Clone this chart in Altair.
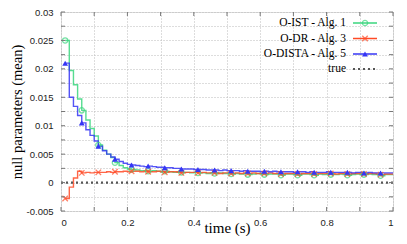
import altair as alt
import pandas as pd

# sample times: 0.0125 * k, k = 1..80
times = [round(0.0125 * k, 4) for k in range(1, 81)]

ist = [0.0250, 0.0197, 0.0172, 0.0147, 0.0127, 0.0110, 0.0095, 0.0082, 0.0066, 0.0057,
       0.0050, 0.0044, 0.0035, 0.0030, 0.0026, 0.0024, 0.0023, 0.0022, 0.0021, 0.0021,
       0.0020, 0.0021, 0.0020, 0.0019, 0.0020, 0.0019, 0.0018, 0.0019, 0.0018, 0.0018,
       0.0017, 0.0018, 0.0017, 0.0017, 0.0016, 0.0017, 0.0016, 0.0017, 0.0016, 0.0016,
       0.0015, 0.0016, 0.0015, 0.0016, 0.0014, 0.0015, 0.0016, 0.0015, 0.0014, 0.0015,
       0.0015, 0.0015, 0.0013, 0.0015, 0.0015, 0.0014, 0.0013, 0.0015, 0.0015, 0.0014,
       0.0013, 0.0015, 0.0014, 0.0015, 0.0014, 0.0014, 0.0015, 0.0014, 0.0013, 0.0014,
       0.0015, 0.0014, 0.0014, 0.0015, 0.0014, 0.0014, 0.0012, 0.0014, 0.0014, 0.0014]

dr = [-0.0028, -0.0008, 0.0008, 0.0020, 0.0017, 0.0018, 0.0017, 0.0018, 0.0018, 0.0018,
      0.0019, 0.0018, 0.0019, 0.0019, 0.0020, 0.0019, 0.0020, 0.0020, 0.0019, 0.0020,
      0.0019, 0.0019, 0.0020, 0.0019, 0.0018, 0.0019, 0.0019, 0.0018, 0.0017, 0.0018,
      0.0018, 0.0018, 0.0017, 0.0018, 0.0017, 0.0017, 0.0017, 0.0016, 0.0017, 0.0017,
      0.0016, 0.0017, 0.0016, 0.0017, 0.0016, 0.0017, 0.0016, 0.0016, 0.0016, 0.0017,
      0.0016, 0.0016, 0.0015, 0.0016, 0.0016, 0.0016, 0.0015, 0.0016, 0.0016, 0.0016,
      0.0015, 0.0016, 0.0016, 0.0016, 0.0016, 0.0015, 0.0016, 0.0016, 0.0015, 0.0016,
      0.0016, 0.0016, 0.0015, 0.0016, 0.0016, 0.0015, 0.0014, 0.0015, 0.0015, 0.0015]

dista = [0.0210, 0.0150, 0.0134, 0.0118, 0.0105, 0.0093, 0.0083, 0.0073, 0.0064, 0.0056,
         0.0050, 0.0045, 0.0041, 0.0037, 0.0034, 0.0032, 0.0031, 0.0030, 0.0029, 0.0028,
         0.0029, 0.0028, 0.0027, 0.0027, 0.0026, 0.0026, 0.0025, 0.0025, 0.0024, 0.0024,
         0.0024, 0.0023, 0.0023, 0.0023, 0.0022, 0.0022, 0.0022, 0.0021, 0.0022, 0.0021,
         0.0021, 0.0021, 0.0020, 0.0021, 0.0020, 0.0020, 0.0020, 0.0019, 0.0020, 0.0019,
         0.0020, 0.0019, 0.0019, 0.0019, 0.0019, 0.0018, 0.0019, 0.0019, 0.0018, 0.0019,
         0.0018, 0.0018, 0.0018, 0.0019, 0.0018, 0.0018, 0.0018, 0.0018, 0.0018, 0.0017,
         0.0018, 0.0018, 0.0017, 0.0018, 0.0017, 0.0017, 0.0017, 0.0017, 0.0017, 0.0017]

series_names = ["O-IST - Alg. 1", "O-DR - Alg. 3", "O-DISTA - Alg. 5"]
series_colors = ["#3ad67e", "#ff4a26", "#3636f5"]

x_grid = [0.0, 0.1, 0.2, 0.3, 0.4, 0.5, 0.6, 0.7, 0.8, 0.9, 1.0]
y_grid = [-0.005, -0.0025, 0.0, 0.0025, 0.005, 0.0075, 0.01, 0.0125, 0.015,
          0.0175, 0.02, 0.0225, 0.025, 0.0275, 0.03]

W, H = 332, 199

rows = []
for name, vals in zip(series_names, [ist, dr, dista]):
    for i, (t, v) in enumerate(zip(times, vals)):
        rows.append({"t": t, "v": v, "series": name, "mark": i % 4 == 0})
df = pd.DataFrame(rows)

xs = alt.Scale(domain=[0, 1], nice=False, zero=False)
ys = alt.Scale(domain=[-0.005, 0.03], nice=False, zero=False)

x_axis = alt.Axis(values=x_grid, labelOverlap=False,
                  labelExpr="round(datum.value*10) % 2 == 0 ? '' + datum.value : ''",
                  labelPadding=6, title="time (s)", titleY=21.5,
                  titleBaseline="alphabetic")
y_axis = alt.Axis(values=y_grid, labelOverlap=False,
                  labelExpr="abs(round(datum.value*400)) % 2 == 0 ? '' + datum.value : ''",
                  labelPadding=8, title="null parameters (mean)", titlePadding=2,
                  titleFontSize=14.5)

color = alt.Color("series:N", scale=alt.Scale(domain=series_names, range=series_colors),
                  legend=None)


def X(field="t"):
    return alt.X(f"{field}:Q", scale=xs, axis=x_axis)


def Y(field="v"):
    return alt.Y(f"{field}:Q", scale=ys, axis=y_axis)


base = alt.Chart(df)

lines = base.mark_line(interpolate="step-after", strokeWidth=1.4, opacity=0.85).encode(
    x=X(), y=Y(), color=color, detail="series:N",
)

mk = base.transform_filter("datum.mark")
circ = mk.transform_filter(alt.datum.series == series_names[0]).mark_point(
    shape="circle", filled=False, size=28, strokeWidth=1.3, color=series_colors[0]
).encode(x=X(), y=Y())
cross = mk.transform_filter(alt.datum.series == series_names[1]).mark_point(
    shape="M-1,-1L1,1M-1,1L1,-1", filled=False, size=30, strokeWidth=1.3,
    color=series_colors[1]
).encode(x=X(), y=Y())
tri = mk.transform_filter(alt.datum.series == series_names[2]).mark_point(
    shape="triangle-up", filled=True, size=34, opacity=1, color=series_colors[2]
).encode(x=X(), y=Y())

true_df = pd.DataFrame({"t": [0.0, 1.0], "v": [0.0, 0.0]})
true_line = alt.Chart(true_df).mark_line(
    color="#555555", strokeWidth=2.2, strokeDash=[2, 3]
).encode(x=X(), y=Y())

# inward tick marks on all four sides
xt = pd.DataFrame({"t": x_grid})
yt = pd.DataFrame({"v": y_grid})
tick_col = "#777777"
xt_bot = alt.Chart(xt).mark_rule(color=tick_col, strokeWidth=1).encode(
    x=X(), y=alt.value(H), y2=alt.value(H - 4))
xt_top = alt.Chart(xt).mark_rule(color=tick_col, strokeWidth=1).encode(
    x=X(), y=alt.value(0), y2=alt.value(4))
yt_left = alt.Chart(yt).mark_rule(color=tick_col, strokeWidth=1).encode(
    y=Y(), x=alt.value(0), x2=alt.value(4))
yt_right = alt.Chart(yt).mark_rule(color=tick_col, strokeWidth=1).encode(
    y=Y(), x=alt.value(W), x2=alt.value(W - 4))

# manual legend (top right, inside plot)
leg_labels = series_names + ["true"]
leg_y = [11, 26.5, 42, 57]
leg_df = pd.DataFrame({"label": leg_labels, "ly": leg_y})
leg_text = alt.Chart(leg_df).mark_text(
    align="right", baseline="middle", font="Liberation Serif", fontSize=11.5,
    color="#000"
).encode(text="label:N", x=alt.value(285), y=alt.Y("ly:Q", scale=None))

leg_lines = []
for i, (name, col) in enumerate(zip(series_names, series_colors)):
    d = pd.DataFrame({"ly": [leg_y[i]]})
    leg_lines.append(alt.Chart(d).mark_rule(color=col, strokeWidth=1.5).encode(
        x=alt.value(292), x2=alt.value(316), y=alt.Y("ly:Q", scale=None)))
leg_true = alt.Chart(pd.DataFrame({"ly": [leg_y[3]]})).mark_rule(
    color="#555555", strokeWidth=2.2, strokeDash=[2, 3]).encode(
    x=alt.value(292), x2=alt.value(316), y=alt.Y("ly:Q", scale=None))
leg_sym = [
    alt.Chart(pd.DataFrame({"ly": [leg_y[0]]})).mark_point(
        shape="circle", filled=False, size=28, strokeWidth=1.3, color=series_colors[0]
    ).encode(x=alt.value(304), y=alt.Y("ly:Q", scale=None)),
    alt.Chart(pd.DataFrame({"ly": [leg_y[1]]})).mark_point(
        shape="M-1,-1L1,1M-1,1L1,-1", filled=False, size=30, strokeWidth=1.3,
        color=series_colors[1]
    ).encode(x=alt.value(304), y=alt.Y("ly:Q", scale=None)),
    alt.Chart(pd.DataFrame({"ly": [leg_y[2]]})).mark_point(
        shape="triangle-up", filled=True, size=34, opacity=1, color=series_colors[2]
    ).encode(x=alt.value(304), y=alt.Y("ly:Q", scale=None)),
]

chart = alt.layer(
    lines, true_line, circ, cross, tri,
    xt_bot, xt_top, yt_left, yt_right,
    leg_text, *leg_lines, leg_true, *leg_sym
).properties(
    width=W, height=H,
    autosize=alt.AutoSizeParams(type="none"),
    padding={"left": 53, "top": 4, "right": 6, "bottom": 25},
).configure_view(stroke=None).configure(background="white").configure_axis(
    grid=True, gridDash=[1, 2], gridColor="#bbbbbb", gridWidth=1,
    ticks=False, domain=False, labelOverlap=False,
    labelFont="Liberation Sans", labelFontSize=9.5, labelColor="#222",
    titleFont="Liberation Serif", titleFontSize=15, titleFontWeight="normal",
    titleColor="#000",
)

chart.save("out.html", embed_options={"renderer": "svg", "actions": False})
